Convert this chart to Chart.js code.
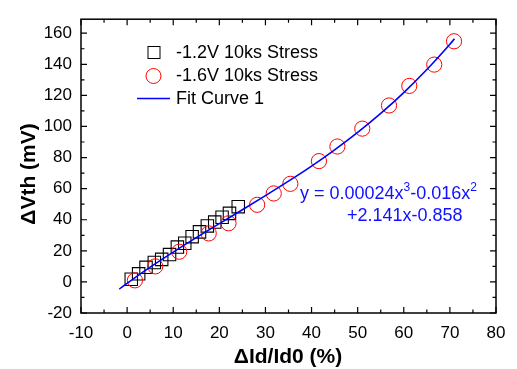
<!DOCTYPE html>
<html lang="en">
<head>
<meta charset="UTF-8">
<title>dVth vs dId/Id0</title>
<script src="https://cdn.jsdelivr.net/npm/chart.js"></script>
<style>
  body { margin: 0; background: #fff; }
  canvas { display: block; }
</style>
</head>
<body>
<canvas id="chart" width="517" height="369"></canvas>
<script>
// tick labels
const xTicks = [-10, 0, 10, 20, 30, 40, 50, 60, 70, 80];
const yTicks = [-20, 0, 20, 40, 60, 80, 100, 120, 140, 160];
const xMinor = [-5, 5, 15, 25, 35, 45, 55, 65, 75];
const yMinor = [-10, 10, 30, 50, 70, 90, 110, 130, 150];

// -1.2V 10ks Stress (squares)
const sqX = [0.9, 2.5, 4.1, 5.9, 7.5, 9.2, 10.9, 12.5, 14.1, 15.7, 17.4, 19.0, 20.6, 22.2, 24.1];
const sqY = [1.7, 5.2, 9.4, 12.5, 14.5, 17.6, 22.4, 24.9, 29.1, 32.2, 36.0, 38.5, 41.6, 44.1, 48.4];

// -1.6V 10ks Stress (circles)
const ciX = [1.7, 6.1, 11.3, 17.7, 22.0, 28.2, 31.8, 35.4, 41.6, 45.6, 51.0, 56.8, 61.2, 66.6, 70.9];
const ciY = [1.0, 10.0, 19.4, 31.2, 37.7, 49.6, 56.9, 63.1, 77.7, 87.1, 98.6, 113.5, 126.1, 139.8, 154.8];

// Fit Curve 1
const fitX = [-1.7, 0, 5, 10, 15, 20, 25, 30, 35, 40, 45, 50, 55, 60, 65, 70, 71];
const fitY = [-4.6, -0.9, 9.5, 19.2, 28.5, 37.5, 46.4, 55.5, 64.8, 74.5, 85.0, 96.2, 108.4, 121.8, 136.6, 152.9, 156.4];

const FONT = "'Liberation Sans', Arial, sans-serif";
const toPts = (xs, ys) => xs.map((x, i) => ({ x: x, y: ys[i] }));

// frame, inward ticks, legend, equation and axis titles
const decor = {
  id: 'decor',
  afterDraw(chart) {
    const ctx = chart.ctx;
    const a = chart.chartArea;
    const xs = chart.scales.x, ys = chart.scales.y;
    ctx.save();
    ctx.strokeStyle = '#000';
    ctx.lineWidth = 1.5;
    ctx.strokeRect(a.left, a.top, a.right - a.left, a.bottom - a.top);

    ctx.lineWidth = 1.2;
    ctx.beginPath();
    const tick = (vals, len) => {
      vals.forEach(v => {
        const px = xs.getPixelForValue(v);
        ctx.moveTo(px, a.bottom); ctx.lineTo(px, a.bottom - len);
        ctx.moveTo(px, a.top); ctx.lineTo(px, a.top + len);
      });
    };
    const tickY = (vals, len) => {
      vals.forEach(v => {
        const py = ys.getPixelForValue(v);
        ctx.moveTo(a.left, py); ctx.lineTo(a.left + len, py);
        ctx.moveTo(a.right, py); ctx.lineTo(a.right - len, py);
      });
    };
    tick(xTicks, 6); tick(xMinor, 3.5);
    tickY(yTicks, 6); tickY(yMinor, 3.5);
    ctx.stroke();

    // legend
    ctx.font = '18px ' + FONT;
    ctx.fillStyle = '#000';
    ctx.textBaseline = 'alphabetic';
    ctx.textAlign = 'left';
    ctx.lineWidth = 1;
    ctx.strokeStyle = '#000';
    ctx.strokeRect(148, 46.5, 12, 12);
    ctx.fillText('-1.2V 10ks Stress', 176, 58);
    ctx.strokeStyle = '#ff0000';
    ctx.beginPath();
    ctx.arc(153.5, 76, 7.5, 0, Math.PI * 2);
    ctx.stroke();
    ctx.fillText('-1.6V 10ks Stress', 176, 81);
    ctx.strokeStyle = '#0000ff';
    ctx.lineWidth = 1.6;
    ctx.beginPath();
    ctx.moveTo(137, 98.5); ctx.lineTo(170, 98.5);
    ctx.stroke();
    ctx.fillText('Fit Curve 1', 176, 104);

    // equation
    ctx.fillStyle = '#1010ff';
    const parts = [['y = 0.00024x', 0], ['3', 1], ['-0.016x', 0], ['2', 1]];
    let x = 300;
    parts.forEach(p => {
      ctx.font = (p[1] ? '12px ' : '18px ') + FONT;
      ctx.fillText(p[0], x, p[1] ? 191 : 199);
      x += ctx.measureText(p[0]).width;
    });
    ctx.font = '18px ' + FONT;
    ctx.fillText('+2.141x-0.858', 347, 221);

    // axis titles
    ctx.fillStyle = '#000';
    ctx.font = 'bold 21px ' + FONT;
    ctx.textAlign = 'center';
    ctx.textBaseline = 'middle';
    ctx.fillText('\u0394Id/Id0 (%)', 288, 357);
    ctx.translate(29, 174);
    ctx.rotate(-Math.PI / 2);
    ctx.fillText('\u0394Vth (mV)', 0, 0);
    ctx.restore();
  }
};

new Chart(document.getElementById('chart'), {
  type: 'scatter',
  data: {
    datasets: [
      {
        label: 'Fit Curve 1',
        type: 'line',
        data: toPts(fitX, fitY),
        borderColor: '#0000ff',
        borderWidth: 1.6,
        pointRadius: 0,
        fill: false,
        cubicInterpolationMode: 'monotone',
        order: 0
      },
      {
        label: '-1.6V 10ks Stress',
        data: toPts(ciX, ciY),
        pointStyle: 'circle',
        pointRadius: 7.6,
        borderColor: '#ff0000',
        backgroundColor: 'rgba(0,0,0,0)',
        borderWidth: 1,
        order: 1
      },
      {
        label: '-1.2V 10ks Stress',
        data: toPts(sqX, sqY),
        pointStyle: 'rect',
        pointRadius: 8.8,
        borderColor: '#000',
        backgroundColor: 'rgba(0,0,0,0)',
        borderWidth: 1.1,
        order: 2
      }
    ]
  },
  options: {
    responsive: false,
    animation: false,
    events: [],
    layout: { padding: { left: 0, right: 21, top: 10, bottom: 0 } },
    plugins: { legend: { display: false }, tooltip: { enabled: false } },
    scales: {
      x: {
        type: 'linear',
        min: -10,
        max: 80,
        afterBuildTicks: s => { s.ticks = xTicks.map(v => ({ value: v })); },
        afterFit: s => { s.height = 56; },
        grid: { display: false, drawTicks: false },
        border: { display: false },
        ticks: { color: '#000', font: { family: FONT, size: 17 }, padding: 10, maxRotation: 0 }
      },
      y: {
        type: 'linear',
        min: -20,
        max: 169,
        afterBuildTicks: s => { s.ticks = yTicks.map(v => ({ value: v })); },
        afterFit: s => { s.width = 81; },
        grid: { display: false, drawTicks: false },
        border: { display: false },
        ticks: { color: '#000', font: { family: FONT, size: 17 }, padding: 9 }
      }
    }
  },
  plugins: [decor]
});
</script>
</body>
</html>
